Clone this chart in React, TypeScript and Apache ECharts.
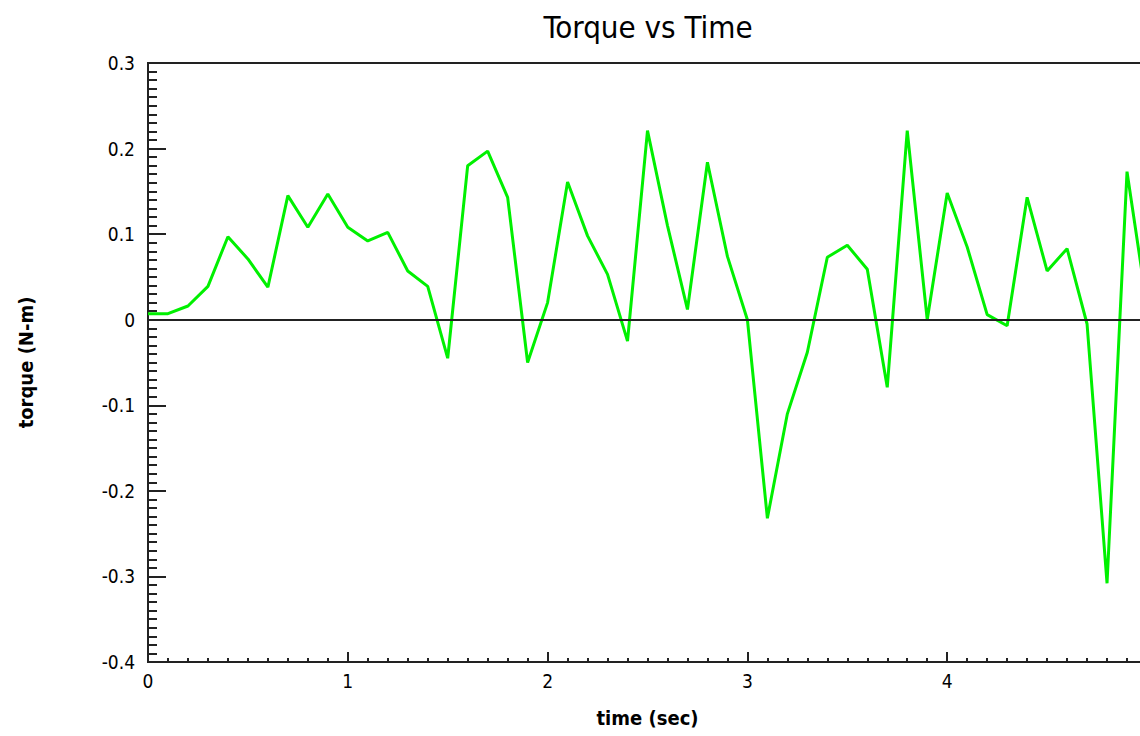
import React, { useEffect, useRef } from "react";
import * as echarts from "echarts";

const titleText = "Torque vs Time";
const xName = "time (sec)";
const yName = "torque (N-m)";

const times = [
  0, 0.1, 0.2, 0.3, 0.4, 0.5, 0.6, 0.7, 0.8, 0.9,
  1.0, 1.1, 1.2, 1.3, 1.4, 1.5, 1.6, 1.7, 1.8, 1.9,
  2.0, 2.1, 2.2, 2.3, 2.4, 2.5, 2.6, 2.7, 2.8, 2.9,
  3.0, 3.1, 3.2, 3.3, 3.4, 3.5, 3.6, 3.7, 3.8, 3.9,
  4.0, 4.1, 4.2, 4.3, 4.4, 4.5, 4.6, 4.7, 4.8, 4.9, 5.0,
];
const torque = [
  0.007, 0.007, 0.016, 0.039, 0.097, 0.071, 0.038, 0.145, 0.108, 0.147,
  0.108, 0.092, 0.102, 0.057, 0.039, -0.045, 0.18, 0.197, 0.143, -0.05,
  0.02, 0.161, 0.098, 0.053, -0.025, 0.221, 0.11, 0.012, 0.184, 0.074,
  0.0, -0.232, -0.11, -0.038, 0.073, 0.087, 0.059, -0.079, 0.221, 0.0,
  0.148, 0.085, 0.006, -0.007, 0.143, 0.057, 0.083, -0.005, -0.308, 0.173, 0.016,
];

const yMin = -0.4;
const yMax = 0.3;
const yStep = 0.1;
const xMin = 0;
const xMax = 5;
const xStep = 1;

const FONT = "'DejaVu Sans Condensed', 'Liberation Sans Narrow', 'DejaVu Sans', sans-serif";
const AXIS_COLOR = "#222222";

export default function App() {
  const ref = useRef<HTMLDivElement>(null);

  useEffect(() => {
    if (!ref.current) return;
    const chart = echarts.init(ref.current, null, { renderer: "svg" });
    const data = times.map((t, i) => [t, torque[i]]);
    chart.setOption({
      animation: false,
      backgroundColor: "#ffffff",
      title: {
        text: titleText,
        left: 643,
        top: 6,
        textAlign: "center",
        textStyle: {
          fontFamily: FONT,
          fontSize: 31,
          fontWeight: "normal",
          color: "#000",
        },
      },
      grid: {
        left: 148,
        top: 63,
        bottom: 74,
        right: -7,
        outerBoundsMode: "none",
        containLabel: false,
        show: true,
        borderColor: AXIS_COLOR,
        borderWidth: 2,
        backgroundColor: "transparent",
      },
      xAxis: {
        type: "value",
        min: xMin,
        max: xMax,
        interval: xStep,
        name: xName,
        nameLocation: "middle",
        nameGap: 46,
        nameTextStyle: {
          fontFamily: FONT,
          fontSize: 20,
          fontWeight: "bold",
          color: "#000",
        },
        axisLine: { show: true, onZero: false, lineStyle: { color: AXIS_COLOR, width: 2 } },
        axisTick: { show: true, inside: true, length: 10, lineStyle: { color: AXIS_COLOR, width: 2 } },
        minorTick: { show: true, splitNumber: 10, length: 4, lineStyle: { color: AXIS_COLOR, width: 2 } },
        axisLabel: {
          margin: 9,
          fontFamily: FONT,
          fontSize: 19,
          color: "#000",
          formatter: (v: number) => String(Math.round(v)),
        },
        splitLine: { show: false },
      },
      yAxis: {
        type: "value",
        min: yMin,
        max: yMax,
        interval: yStep,
        name: yName,
        nameLocation: "middle",
        nameGap: 112,
        nameRotate: 90,
        nameTextStyle: {
          fontFamily: FONT,
          fontSize: 20,
          fontWeight: "bold",
          color: "#000",
        },
        axisLine: { show: true, onZero: false, lineStyle: { color: AXIS_COLOR, width: 2 } },
        axisTick: { show: true, inside: true, length: 18, lineStyle: { color: AXIS_COLOR, width: 2 } },
        minorTick: { show: true, splitNumber: 10, length: 9, lineStyle: { color: AXIS_COLOR, width: 2 } },
        axisLabel: {
          margin: 13,
          fontFamily: FONT,
          fontSize: 19,
          color: "#000",
          formatter: (v: number) => {
            const r = Math.round(v * 10) / 10;
            return r === 0 ? "0" : r.toFixed(1);
          },
        },
        splitLine: { show: false },
      },
      series: [
        {
          type: "line",
          data,
          symbol: "none",
          lineStyle: { color: "#00f000", width: 3 },
          markLine: {
            silent: true,
            symbol: "none",
            label: { show: false },
            lineStyle: { color: AXIS_COLOR, width: 2, type: "solid" },
            data: [{ yAxis: 0 }],
          },
          z: 3,
        },
      ],
    });
    return () => chart.dispose();
  }, []);

  return (
    <div
      ref={ref}
      style={{ position: "absolute", left: 0, top: 0, width: 1140, height: 736 }}
    />
  );
}
